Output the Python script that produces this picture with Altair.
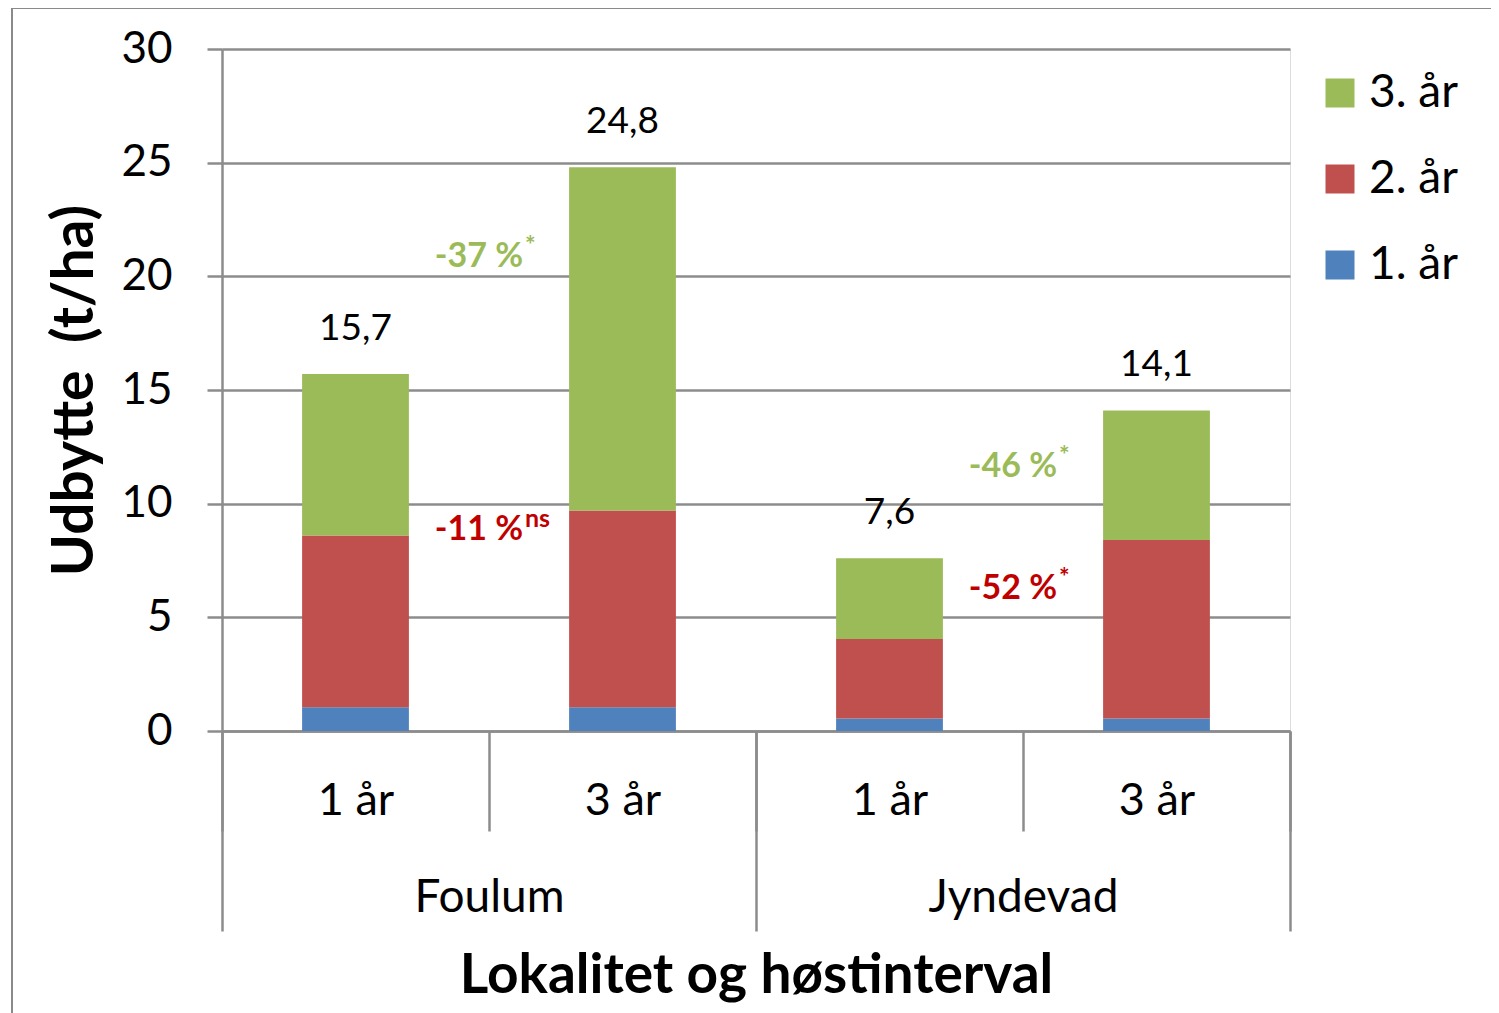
import altair as alt
import pandas as pd

# ---------------- data ----------------
groups = ["Foulum", "Foulum", "Jyndevad", "Jyndevad"]
intervals = ["1 år", "3 år", "1 år", "3 år"]
year1 = [1.05, 1.05, 0.55, 0.55]
year2 = [7.55, 8.65, 3.50, 7.85]
year3 = [7.10, 15.10, 3.55, 5.70]
totals = [15.7, 24.8, 7.6, 14.1]
total_labels = ["15,7", "24,8", "7,6", "14,1"]

series_names = ["1. år", "2. år", "3. år"]
legend_order = ["3. år", "2. år", "1. år"]
legend_colors = ["#9BBB59", "#C0504D", "#4F81BD"]

pct_labels = ["-37 %", "-11 %", "-46 %", "-52 %"]
pct_sups = ["*", "ns", "*", "*"]
pct_groups = ["Foulum", "Foulum", "Jyndevad", "Jyndevad"]
pct_values = [20.85, 8.85, 11.6, 6.25]
pct_kind = ["green", "red", "green", "red"]
kind_colors = {"green": "#9BBB59", "red": "#C00000"}

outer_groups = ["Foulum", "Jyndevad"]
y_ticks = [0, 5, 10, 15, 20, 25, 30]

FONT = "Lato"
GRAY = "#8c8c8c"
LW = 2.5

cats = [f"{g}|{i}" for g, i in zip(groups, intervals)]

rows = []
for c, a, b, d in zip(cats, year1, year2, year3):
    for k, (s, v) in enumerate(zip(series_names, [a, b, d])):
        rows.append({"cat": c, "series": s, "value": v, "ord": k})
bars_df = pd.DataFrame(rows)

tot_df = pd.DataFrame({"cat": cats, "total": totals, "label": total_labels})

pct_df = pd.DataFrame({
    "cat": [f"{g}|3 år" for g in pct_groups],
    "v": pct_values,
    "label": pct_labels,
    "sup": pct_sups,
    "kind": pct_kind,
})

outer_df = pd.DataFrame({"group": outer_groups})

xscale = alt.Scale(type="band", domain=cats, paddingInner=0, paddingOuter=0)
yscale = alt.Scale(domain=[0, 30], nice=False)

bars = alt.Chart(bars_df).mark_bar(width=alt.RelativeBandSize(0.4)).encode(
    x=alt.X("cat:N", scale=xscale, sort=cats, title=None,
            axis=alt.Axis(tickBand="extent", tickSize=100, labelAngle=0,
                          labelExpr="split(datum.value, '|')[1]",
                          labelPadding=-31, labelBaseline="middle",
                          labelFontSize=45, labelColor="black",
                          labelFont=FONT, grid=False, domain=True,
                          domainColor=GRAY, domainWidth=LW,
                          tickColor=GRAY, tickWidth=LW, labelLimit=0,
                          labelOverlap=False, labelFlush=False)),
    y=alt.Y("value:Q", stack="zero", scale=yscale,
            axis=alt.Axis(values=y_ticks, tickSize=15, labelPadding=35,
                          labelFontSize=44, labelColor="black", labelFont=FONT,
                          grid=True, gridColor=GRAY, gridWidth=LW,
                          gridOpacity=1, domainColor=GRAY, domainWidth=LW,
                          tickColor=GRAY, tickWidth=LW,
                          title="Udbytte \u00a0(t/ha)",
                          titleFontSize=57, titleFontWeight="bold",
                          titleFont=FONT, titleColor="black",
                          titleX=-147, titleY=341, titleAngle=270,
                          titleAlign="center", titleBaseline="middle")),
    color=alt.Color("series:N",
                    scale=alt.Scale(domain=legend_order, range=legend_colors),
                    legend=alt.Legend(title=None, orient="none", legendX=1095,
                                      legendY=21, symbolType="square",
                                      symbolSize=841, symbolStrokeWidth=0,
                                      labelFontSize=46, labelFont=FONT,
                                      labelColor="black", rowPadding=40,
                                      labelOffset=6, padding=0)),
    order=alt.Order("ord:Q", sort="ascending"),
)

tot_text = alt.Chart(tot_df).mark_text(
    baseline="alphabetic", dy=-34, fontSize=37, font=FONT, color="black"
).encode(
    x=alt.X("cat:N", scale=xscale, sort=cats),
    y=alt.Y("total:Q", scale=yscale),
    text="label:N",
)

pct_layers = []
for kind, col in kind_colors.items():
    base = alt.Chart(pct_df).transform_filter(alt.datum.kind == kind)
    main = base.mark_text(align="right", baseline="middle", dx=34,
                          fontSize=34, fontWeight="bold", font=FONT,
                          color=col).encode(
        x=alt.X("cat:N", scale=xscale, sort=cats, bandPosition=0),
        y=alt.Y("v:Q", scale=yscale),
        text="label:N",
    )
    sup = base.mark_text(align="left", baseline="middle", dx=36, dy=-11,
                         fontSize=25, fontWeight="bold", font=FONT,
                         color=col).encode(
        x=alt.X("cat:N", scale=xscale, sort=cats, bandPosition=0),
        y=alt.Y("v:Q", scale=yscale),
        text="sup:N",
    )
    pct_layers += [main, sup]

inner = alt.layer(bars, tot_text, *pct_layers)

outer_axis = alt.Chart(outer_df).mark_point(opacity=0).encode(
    x=alt.X("group:N",
            scale=alt.Scale(type="band", domain=outer_groups,
                            paddingInner=0, paddingOuter=0),
            axis=alt.Axis(orient="bottom", tickBand="extent", tickSize=200,
                          tickColor=GRAY, tickWidth=LW,
                          labelAngle=0, labelPadding=-34,
                          labelBaseline="middle", labelFontSize=46,
                          labelFont=FONT, labelColor="black", domain=False,
                          grid=False, labelLimit=0,
                          title="Lokalitet og høstinterval",
                          titleFontSize=55, titleFontWeight="bold",
                          titleFont=FONT, titleColor="black",
                          titleX=534, titleY=244, titleBaseline="middle",
                          titleAlign="center", labelOverlap=False)),
    y=alt.value(0),
)

frame = alt.Chart(pd.DataFrame({"a": [0]})).mark_rect(
    filled=False, stroke="#8a8a8a", strokeWidth=2
).encode(
    x=alt.value(-210), x2=alt.value(1400), y=alt.value(-41), y2=alt.value(1100)
)

chart = alt.layer(frame, inner, outer_axis).resolve_scale(
    x="independent"
).properties(
    width=1068, height=682,
    autosize=alt.AutoSizeParams(type="none"),
    padding={"left": 214, "top": 41, "right": 201, "bottom": 282},
    background="white",
).configure_view(stroke=None).configure(font=FONT)

chart.save("out.html", embed_options={"renderer": "svg", "actions": False})
